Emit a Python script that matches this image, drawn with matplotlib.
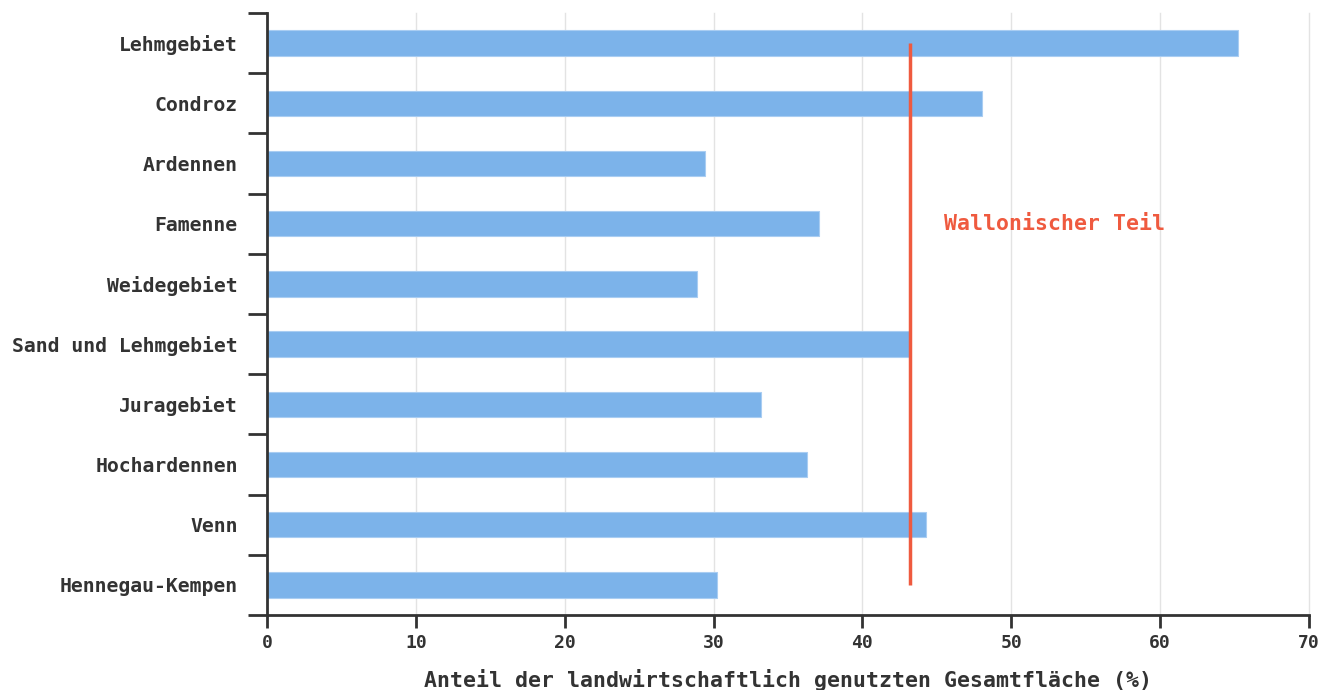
import matplotlib.pyplot as plt
import numpy as np

# Anteil der landwirtschaftlich genutzten Gesamtfläche je Agrarregion
regions = ['Lehmgebiet', 'Condroz', 'Ardennen', 'Famenne', 'Weidegebiet',
           'Sand und Lehmgebiet', 'Juragebiet', 'Hochardennen', 'Venn',
           'Hennegau-Kempen']
shares = [65.2, 48.0, 29.4, 37.1, 28.9, 43.1, 33.2, 36.3, 44.3, 30.2]
wallonia = 43.2
ref_label = 'Wallonischer Teil'
x_ticks = [0, 10, 20, 30, 40, 50, 60, 70]

plt.rcParams['font.family'] = ['DejaVu Sans Mono']
plt.rcParams['font.weight'] = 'bold'
dark = '#333333'

fig = plt.figure(figsize=(13.22, 6.90), dpi=100)
ax = fig.add_axes([267 / 1322, 75 / 690, 1042 / 1322, 602 / 690])

pos = np.arange(len(regions))
ax.barh(pos, shares, height=0.42, color='#7cb3ea', edgecolor='#a9cdf2',
        linewidth=0.8, zorder=2)

# Wallonian average
ax.vlines(wallonia, pos[0], pos[-1], color='#ef5a3f', linewidth=2.5, zorder=3)
ax.text(45.5, 3, ref_label, color='#ef5a3f', fontsize=15.5,
        fontweight='bold', va='center', ha='left')

ax.set_xlim(0, 70)
ax.set_ylim(len(regions) - 0.5, -0.5)

ax.set_xticks(x_ticks)
ax.set_xticklabels([str(t) for t in x_ticks], fontsize=13, color=dark,
                   fontweight='bold')
ax.tick_params(axis='x', direction='out', length=9, width=2, color=dark, pad=5)

# band boundaries as ticks, labels in the middle
ax.set_yticks(np.arange(len(regions) + 1) - 0.5)
ax.set_yticklabels([])
ax.set_yticks(pos, minor=True)
ax.set_yticklabels(regions, minor=True, fontsize=14.2, color=dark,
                   fontweight='bold')
ax.tick_params(axis='y', which='major', direction='out', length=14, width=2, color=dark)
ax.tick_params(axis='y', which='minor', length=0, pad=21)

for s in ['top', 'right']:
    ax.spines[s].set_visible(False)
for s in ['left', 'bottom']:
    ax.spines[s].set_color(dark)
    ax.spines[s].set_linewidth(2)

ax.grid(axis='x', color='#e3e3e3', linewidth=1, zorder=0, clip_on=False)
ax.set_axisbelow(True)

ax.set_xlabel('Anteil der landwirtschaftlich genutzten Gesamtfläche (%)',
              fontsize=15.5, color=dark, fontweight='bold', labelpad=12)

plt.savefig('out.png', dpi=100)
